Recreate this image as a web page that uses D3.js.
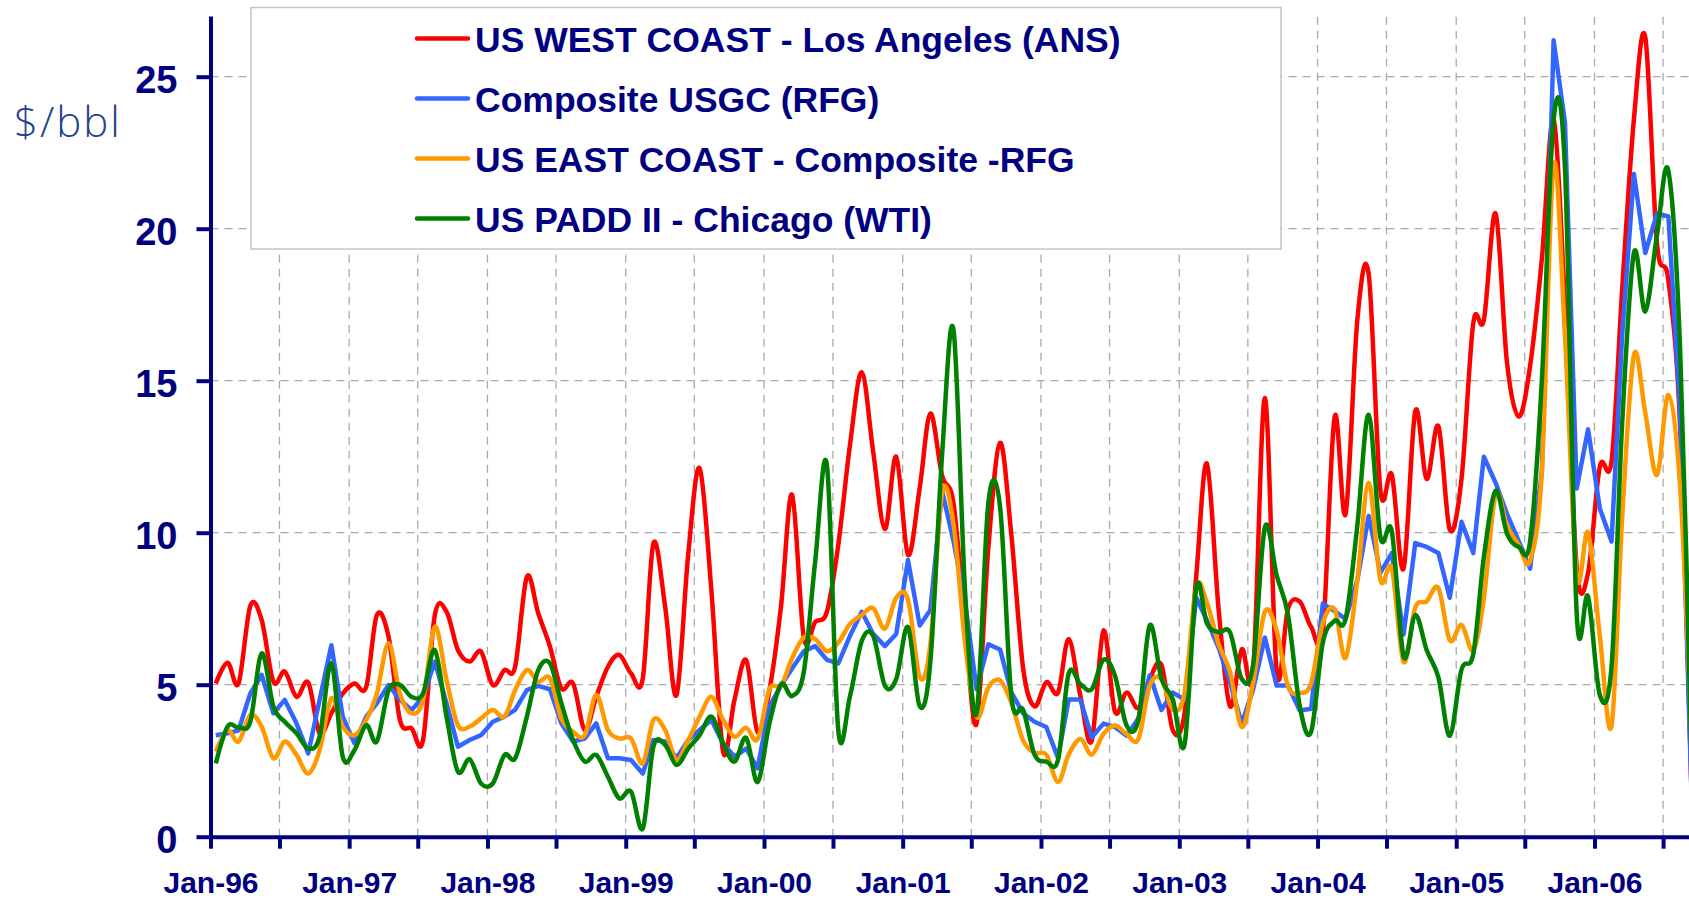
<!DOCTYPE html>
<html lang="en">
<head>
<meta charset="utf-8">
<title>US refinery margins</title>
<script src="https://cdn.jsdelivr.net/npm/d3@7"></script>
<style>
  html, body { margin: 0; padding: 0; background: #fff; }
  svg { display: block; }
  .lbl { font-family: "Liberation Sans", Arial, sans-serif; font-weight: bold; fill: #000080; }
</style>
</head>
<body>
<svg width="1689" height="900"></svg>
<script>
// monthly values from Jan-96, $/bbl
var westCoast = [5.04, 5.72, 5.04, 7.59, 7.13, 5.1, 5.43, 4.6, 5.07, 3.4, 4.06, 4.71,
  5.04, 4.93, 7.29, 6.58, 3.84, 3.56, 3.18, 7.29, 7.4, 6.14, 5.76, 6.09,
  4.99, 5.48, 5.59, 8.55, 7.35, 6.25, 4.88, 5.04, 3.51, 4.6, 5.59, 5.98,
  5.37, 5.21, 9.65, 7.57, 4.66, 9.3, 12.12, 8.11, 2.8, 4.5, 5.81, 3.44,
  4.8, 7.6, 11.25, 6.55, 7.06, 7.4, 9.6, 12.9, 15.28, 12.67, 10.12, 12.5,
  9.27, 11.48, 13.92, 11.88, 10.97, 6.9, 3.72, 9.5, 12.96, 9.9, 5.53, 4.29,
  5.08, 4.74, 6.5, 4.63, 3.16, 6.78, 4.12, 4.74, 4.23, 5.19, 5.65, 3.5,
  4.06, 8.6, 12.27, 7.46, 4.29, 6.16, 5.42, 14.43, 5.42, 7.5, 7.74, 6.9,
  6.78, 13.81, 10.62, 17.0, 18.5, 11.38, 11.9, 8.82, 14.0, 11.77, 13.5, 10.1,
  11.77, 16.89, 17.0, 20.5, 15.6, 13.82, 15.48, 19.0, 23.6, 17.5, 8.85, 8.68,
  12.17, 12.35, 18.0, 23.6, 26.3, 19.5, 18.3, 13.5, 1];
var usgc = [3.34, 3.4, 3.5, 4.71, 5.32, 4.06, 4.5, 3.73, 2.74, 4.5, 6.3, 3.95,
  3.07, 3.95, 4.39, 4.99, 4.5, 4.17, 4.6, 5.76, 4.39, 2.96, 3.18, 3.34,
  3.78, 3.95, 4.17, 4.82, 4.96, 4.85, 3.73, 3.13, 3.23, 3.73, 2.58, 2.58,
  2.52, 2.08, 3.18, 3.13, 2.58, 3.18, 3.51, 3.84, 3.07, 2.63, 2.9, 2.25,
  4.29, 4.97, 5.53, 6.1, 6.27, 5.82, 5.7, 6.61, 7.4, 6.67, 6.27, 6.67,
  9.1, 6.95, 7.46, 11.37, 9.73, 7.69, 4.85, 6.33, 6.16, 4.74, 4.06, 3.78,
  3.61, 2.59, 4.51, 4.51, 3.27, 3.72, 3.61, 3.32, 3.89, 5.31, 4.17, 4.74,
  4.51, 7.86, 7.12, 6.21, 5.08, 3.72, 4.85, 6.55, 4.97, 4.97, 4.15, 4.21,
  7.67, 7.42, 7.16, 8.44, 10.55, 8.69, 9.33, 6.65, 9.66, 9.53, 9.33, 7.86,
  10.36, 9.33, 12.5, 11.64, 10.62, 9.72, 8.82, 12.0, 26.2, 23.5, 11.45, 13.4,
  10.8, 9.71, 16.5, 21.8, 19.2, 20.5, 20.4, 14.0, 1];
var eastCoast = [2.8, 3.5, 3.13, 4.0, 3.62, 2.58, 3.13, 2.69, 2.08, 2.85, 4.55, 3.62,
  3.34, 3.84, 4.71, 6.36, 4.71, 4.06, 4.5, 6.9, 5.15, 3.67, 3.62, 3.89,
  4.17, 3.95, 4.82, 5.48, 5.1, 5.21, 3.89, 3.45, 3.34, 4.66, 3.51, 3.23,
  3.23, 2.41, 3.84, 3.51, 2.52, 3.18, 3.95, 4.6, 3.84, 3.29, 3.58, 3.21,
  4.85, 4.97, 5.87, 6.55, 6.5, 6.1, 6.38, 7.0, 7.29, 7.52, 6.84, 7.86,
  7.8, 5.25, 6.33, 11.31, 10.29, 6.33, 3.95, 4.91, 5.14, 4.4, 3.16, 2.76,
  2.7, 1.8, 2.7, 3.21, 2.7, 3.38, 3.66, 3.38, 3.21, 4.97, 5.19, 4.17,
  4.74, 8.2, 7.69, 6.33, 5.42, 3.61, 5.08, 7.4, 6.78, 4.95, 4.73, 5.05,
  7.03, 7.48, 5.88, 8.44, 11.64, 8.44, 8.82, 5.75, 7.54, 7.74, 8.18, 6.46,
  6.97, 6.14, 7.85, 11.26, 10.23, 9.59, 9.08, 12.0, 22.1, 16.5, 8.6, 10.0,
  6.6, 3.65, 10.5, 15.84, 13.94, 11.9, 14.53, 11.5, 3];
var padd2 = [2.41, 3.62, 3.6, 3.78, 6.03, 4.28, 3.78, 3.4, 2.9, 3.29, 5.7, 2.63,
  2.85, 3.67, 3.13, 4.82, 4.99, 4.6, 4.71, 6.14, 3.95, 2.14, 2.55, 1.75,
  1.75, 2.69, 2.58, 3.95, 5.48, 5.7, 4.39, 3.18, 2.47, 2.69, 1.97, 1.26,
  1.48, 0.27, 2.96, 3.02, 2.36, 2.9, 3.34, 3.95, 3.07, 2.47, 3.25, 1.8,
  3.72, 5.02, 4.63, 5.42, 9.05, 12.22, 3.5, 4.63, 6.44, 6.61, 4.97, 5.19,
  6.89, 4.29, 5.76, 12.56, 16.69, 8.0, 4.06, 10.97, 10.86, 4.6, 4.17, 2.7,
  2.47, 2.53, 5.36, 5.02, 4.85, 5.82, 5.31, 3.66, 3.83, 6.95, 5.19, 4.51,
  3.04, 8.2, 7.01, 6.72, 6.72, 5.19, 5.65, 10.18, 8.6, 7.3, 4.3, 3.45,
  6.39, 7.1, 7.16, 10.23, 13.88, 9.85, 10.04, 5.94, 7.29, 6.14, 5.24, 3.32,
  5.5, 6.01, 9.2, 11.38, 9.97, 9.53, 9.72, 15.0, 23.6, 22.0, 7.35, 7.9,
  4.66, 5.6, 13.6, 19.2, 17.28, 19.8, 21.9, 16.0, 2];

var seriesNames = ["US WEST COAST - Los Angeles (ANS)", "Composite USGC (RFG)",
  "US EAST COAST - Composite -RFG", "US PADD II - Chicago (WTI)"];
var seriesColors = ["#ff0000", "#3366ff", "#ff9900", "#008000"];
var yTicks = [0, 5, 10, 15, 20, 25];
var xLabels = ["Jan-96", "Jan-97", "Jan-98", "Jan-99", "Jan-00", "Jan-01",
  "Jan-02", "Jan-03", "Jan-04", "Jan-05", "Jan-06"];

var svg = d3.select("svg"),
    width = +svg.attr("width"),
    navy = "#000080";

// one point per month, plotted mid month
var months = d3.timeMonth.range(new Date(1996, 0, 1), new Date(1996, westCoast.length, 1))
    .map(function(d) { return d3.timeDay.offset(d, 14); });

var x = d3.scaleTime()
    .domain([new Date(1996, 0, 1), new Date(2006, 0, 1)])
    .range([210.5, 1594.5]);
x.domain([new Date(1996, 0, 1), x.invert(width)]).range([210.5, width]);

var y = d3.scaleLinear()
    .domain([0, 27])
    .range([836.7, 15.9]);

var halfYears = d3.timeMonth.every(6).range(new Date(1996, 0, 1), new Date(2006, 7, 1));

// grid
var grid = svg.append("g")
    .attr("stroke", "#aaaaaa")
    .attr("stroke-width", 1.3)
    .attr("stroke-dasharray", "8,6");
grid.selectAll("line.h")
    .data(yTicks.slice(1))
    .enter().append("line")
    .attr("x1", x.range()[0]).attr("x2", width)
    .attr("y1", function(d) { return y(d); })
    .attr("y2", function(d) { return y(d); });
grid.selectAll("line.v")
    .data(halfYears.slice(1))
    .enter().append("line")
    .attr("x1", function(d) { return x(d); })
    .attr("x2", function(d) { return x(d); })
    .attr("y1", y(0)).attr("y2", y.range()[1]);

// lines
svg.append("clipPath").attr("id", "plot")
    .append("rect")
    .attr("x", x.range()[0]).attr("y", 0)
    .attr("width", width - x.range()[0]).attr("height", y(0));

var series = [westCoast, usgc, eastCoast, padd2];
var plot = svg.append("g").attr("clip-path", "url(#plot)");
series.forEach(function(vals, i) {
    var line = d3.line()
        .x(function(d, j) { return x(months[j]); })
        .y(function(d) { return y(d); })
        .curve(i == 1 ? d3.curveLinear : d3.curveCardinal.tension(0));
    plot.append("path")
        .datum(vals)
        .attr("fill", "none")
        .attr("stroke", seriesColors[i])
        .attr("stroke-width", 4.5)
        .attr("stroke-linejoin", "round")
        .attr("d", line);
});

// axes
var xAxis = svg.append("g")
    .attr("transform", "translate(0," + y(0) + ")")
    .call(d3.axisBottom(x)
        .tickValues(halfYears)
        .tickSize(12)
        .tickSizeOuter(0)
        .tickFormat(function(d) { return d.getMonth() == 0 ? xLabels[d.getFullYear() - 1996] : ""; }));
xAxis.selectAll("text")
    .attr("class", "lbl")
    .attr("y", 56).attr("dy", 0)
    .style("font-size", "30px");

var yAxis = svg.append("g")
    .attr("transform", "translate(" + x.range()[0] + ",0)")
    .call(d3.axisLeft(y).tickValues(yTicks).tickSize(14).tickSizeOuter(0));
yAxis.selectAll("text")
    .attr("class", "lbl")
    .attr("x", -33).attr("dy", "0.42em")
    .style("font-size", "38px");

svg.selectAll(".domain, .tick line")
    .attr("stroke", navy)
    .attr("stroke-width", 4);

svg.append("text")
    .attr("x", 14).attr("y", 137)
    .attr("fill", "#24418f")
    .style("font-family", "'Open Sans', 'DejaVu Sans', sans-serif")
    .style("font-weight", 300)
    .style("font-size", "42px")
    .style("letter-spacing", "2px")
    .text("$/bbl");

// legend
var legend = svg.append("g");
legend.append("rect")
    .attr("x", 251).attr("y", 7.5)
    .attr("width", 1030).attr("height", 241.5)
    .attr("fill", "#fff")
    .attr("stroke", "#c4c4c4")
    .attr("stroke-width", 1.5);
var item = legend.selectAll("g")
    .data(seriesNames)
    .enter().append("g")
    .attr("transform", function(d, i) { return "translate(0," + (38.5 + i * 60) + ")"; });
item.append("line")
    .attr("x1", 417).attr("x2", 468)
    .attr("stroke", function(d, i) { return seriesColors[i]; })
    .attr("stroke-width", 4.5)
    .attr("stroke-linecap", "round");
item.append("text")
    .attr("class", "lbl")
    .attr("x", 475).attr("y", 13)
    .style("font-size", "35.5px")
    .text(function(d) { return d; });
</script>
</body>
</html>
